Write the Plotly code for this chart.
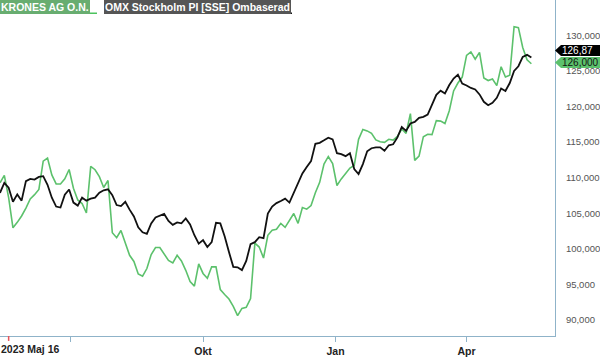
import pandas as pd
import plotly.graph_objects as go

# ---- data ----
START_DATE = "2023-05-13"   # first sample, samples every 3 calendar days
STEP = "3D"

OMX = [107.85, 109.26, 108.57, 106.6, 107.64, 106.76, 109.5, 109.82, 109.72, 110.1,
       110.2, 108.99, 107.18, 105.93, 105.79, 107.6, 108.33, 106.49, 106.07, 107.18,
       106.76, 107.04, 107.18, 107.88, 108.22, 108.36, 107.53, 106.14, 106.0, 106.6,
       105.5, 104.54, 103.01, 102.32, 102.08, 103.57, 104.4, 104.61, 104.89, 103.92,
       103.36, 103.71, 103.57, 104.26, 103.43, 101.9, 100.72, 101.21, 100.24, 100.93,
       103.64, 103.57, 101.77, 99.54, 97.46, 97.39, 97.0, 98.29, 100.65, 100.93,
       101.63, 101.49, 104.96, 105.93, 106.42, 106.72, 107.04, 106.49, 107.83, 109.12,
       110.58, 111.49, 112.32, 114.75, 114.89, 115.24, 115.61, 115.38, 113.43, 113.29,
       113.01, 113.43, 111.21, 110.51, 111.9, 113.71, 114.13, 114.26, 114.26, 113.78,
       114.54, 114.68, 115.65, 117.11, 116.56, 117.6, 117.83, 118.39, 118.53, 118.85,
       120.24, 121.63, 122.22, 121.83, 123.01, 123.92, 124.47, 123.22, 122.94, 122.6,
       122.39, 121.69, 120.65, 120.17, 120.51, 121.21, 122.53, 122.18, 123.29, 125.0,
       125.65, 126.97, 127.25, 126.87]

KRONES = [109.26, 110.3, 107.18, 102.94, 103.71, 104.61, 105.72, 107.01, 107.6, 108.33,
          112.32, 112.74, 110.38, 109.12, 109.1, 109.82, 111.14, 108.5, 106.86, 106.36,
          105.03, 111.58, 111.11, 110.14, 108.61, 109.6, 102.25, 101.56, 102.57, 100.93,
          99.08, 98.22, 96.46, 96.14, 97.22, 99.19, 100.17, 100.17, 99.31, 98.36,
          98.01, 99.08, 98.29, 96.97, 95.38, 94.75, 97.88, 96.53, 95.86, 97.46,
          97.46, 94.26, 93.57, 92.94, 91.9, 90.6, 91.62, 91.76, 93.01, 100.79,
          100.24, 98.7, 101.9, 102.6, 102.74, 103.57, 103.01, 103.99, 104.96, 103.57,
          105.79, 105.56, 106.07, 107.88, 109.33, 111.9, 112.97, 111.97, 108.89, 109.82,
          110.65, 111.35, 111.7, 115.38, 116.76, 116.56, 116.21, 115.29, 115.03, 114.96,
          115.38, 115.28, 115.79, 116.83, 116.21, 119.0, 112.43, 113.01, 115.75, 116.1,
          116.04, 118.01, 117.94, 117.6, 119.4, 122.18, 123.29, 124.13, 127.18, 127.67,
          126.63, 127.6, 123.99, 123.64, 123.85, 122.92, 125.58, 124.13, 124.4, 131.2,
          131.07, 128.29, 126.56, 126.0]

SERIES_NAMES = ["KRONES AG O.N.", "OMX Stockholm PI [SSE] Ombaserad"]
TICK_DATES = ["2023-07-01", "2023-10-01", "2024-01-01", "2024-04-01"]
TICK_LABELS = ["", "Okt", "Jan", "Apr"]
START_LABEL = "2023 Maj 16"
START_MARK = "2023-05-19"
Y_TICKS = [90, 95, 100, 105, 110, 115, 120, 125, 130]
X_RANGE = ["2023-05-13", "2024-06-01 10:00"]
Y_RANGE = [87.74, 134.96]

# ---- styles ----
GREEN_C = "#5cc16c"
BLACK_C = "#111111"
AXIS_C = "#8fb3c9"
FONT = "Liberation Sans, Arial, sans-serif"

dates = pd.date_range(START_DATE, periods=len(OMX), freq=STEP)

fig = go.Figure()
fig.add_trace(go.Scatter(x=dates, y=KRONES, mode="lines", name=SERIES_NAMES[0],
                         line=dict(color=GREEN_C, width=1.6)))
fig.add_trace(go.Scatter(x=dates, y=OMX, mode="lines", name=SERIES_NAMES[1],
                         line=dict(color=BLACK_C, width=1.8)))

PLOT_H = 340.0
PLOT_W = 555.0

shapes = [
    # red start tick
    dict(type="line", xref="x", x0=START_MARK, x1=START_MARK, yref="paper",
         y0=0, y1=-5 / PLOT_H, line=dict(color="#e8545a", width=1.5)),
    # legend underlines
    dict(type="line", xref="paper", yref="paper", x0=0, x1=97 / PLOT_W,
         y0=1 - 13.5 / PLOT_H, y1=1 - 13.5 / PLOT_H, line=dict(color="#4cc35e", width=1.5)),
    dict(type="line", xref="paper", yref="paper", x0=104 / PLOT_W, x1=292 / PLOT_W,
         y0=1 - 13.5 / PLOT_H, y1=1 - 13.5 / PLOT_H, line=dict(color="#111111", width=1.5)),
    # last value tags
    dict(type="path", xref="paper", xsizemode="pixel", xanchor=1,
         yref="y", ysizemode="pixel", yanchor=KRONES[-1],
         path="M 0,1.2 L 6,6.7 L 45,6.7 L 45,-4.3 L 6,-4.3 Z",
         fillcolor=GREEN_C, line=dict(width=0), layer="above"),
    dict(type="path", xref="paper", xsizemode="pixel", xanchor=1,
         yref="y", ysizemode="pixel", yanchor=OMX[-1],
         path="M 0,7 L 6,12.5 L 45,12.5 L 45,1.5 L 6,1.5 Z",
         fillcolor="#000000", line=dict(width=0), layer="above"),
]

annotations = [
    dict(text=SERIES_NAMES[0], x=0, y=1, xref="paper", yref="paper", xanchor="left",
         yanchor="top", showarrow=False, bgcolor="#68ad70", borderpad=1, borderwidth=0,
         font=dict(family=FONT, size=10.5, color="white", weight="bold")),
    dict(text=SERIES_NAMES[1], x=104 / PLOT_W, y=1, xref="paper", yref="paper",
         xanchor="left", yanchor="top", showarrow=False, bgcolor="#555555", borderpad=1,
         borderwidth=0,
         font=dict(family=FONT, size=10.5, color="white", weight="bold")),
    dict(text=START_LABEL, x=0, y=0, xref="paper", yref="paper", xanchor="left",
         yanchor="top", yshift=-7, xshift=1, showarrow=False, borderpad=0, borderwidth=0,
         font=dict(family=FONT, size=10.5, color="#222222", weight="bold")),
    dict(text=f"{KRONES[-1]:.3f}".replace(".", ","), x=1, y=KRONES[-1], xref="paper",
         yref="y", xanchor="left", yanchor="middle", xshift=7, yshift=1.2,
         showarrow=False, borderpad=0, borderwidth=0,
         font=dict(family=FONT, size=10, color="#111111")),
    dict(text=f"{OMX[-1]:.2f}".replace(".", ","), x=1, y=OMX[-1], xref="paper",
         yref="y", xanchor="left", yanchor="middle", xshift=7, yshift=7,
         showarrow=False, borderpad=0, borderwidth=0,
         font=dict(family=FONT, size=10, color="white")),
]

fig.update_layout(
    width=600, height=357,
    margin=dict(l=0, r=45, t=0, b=17),
    paper_bgcolor="white", plot_bgcolor="white",
    showlegend=False,
    separators=",.",
    font=dict(family=FONT),
    shapes=shapes,
    annotations=annotations,
    xaxis=dict(range=X_RANGE, tickvals=TICK_DATES, ticktext=TICK_LABELS,
               ticks="outside", ticklen=5, tickcolor=AXIS_C, tickwidth=1,
               showline=True, linecolor=AXIS_C, linewidth=1,
               showgrid=False, zeroline=False, ticklabelstandoff=0,
               tickfont=dict(family=FONT, size=10.5, color="#222222", weight="bold")),
    yaxis=dict(side="right", range=Y_RANGE, tickvals=Y_TICKS, tickformat=".3f",
               ticks="", showline=True, linecolor=AXIS_C, linewidth=1,
               showgrid=False, zeroline=False, ticklabelstandoff=8,
               tickfont=dict(family=FONT, size=9.5, color="#555555")),
)

fig.write_html("out.html", config={"displayModeBar": False},
               post_script="document.body.style.margin='0';")
